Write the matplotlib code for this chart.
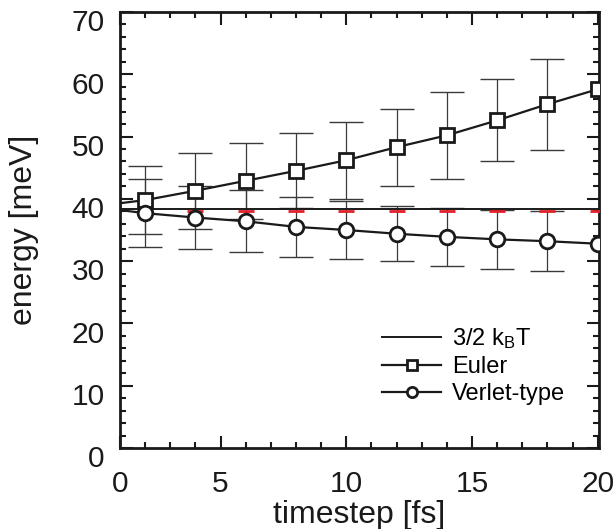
import matplotlib
matplotlib.use('Agg')
import matplotlib.pyplot as plt
import matplotlib.transforms as mtransforms
from matplotlib.ticker import MultipleLocator
import numpy as np

plt.rcParams['font.family'] = ['Liberation Sans', 'DejaVu Sans']
plt.rcParams['mathtext.default'] = 'regular'

# Data
timestep = [0, 2, 4, 6, 8, 10, 12, 14, 16, 18, 20]
euler = [38.8, 39.8, 41.3, 42.9, 44.5, 46.2, 48.3, 50.2, 52.6, 55.2, 57.6]
verlet = [38.7, 37.7, 37.0, 36.4, 35.5, 35.0, 34.4, 33.9, 33.5, 33.2, 32.8]
err_x = [2, 4, 6, 8, 10, 12, 14, 16, 18]
euler_err = [5.4, 6.1, 6.1, 6.0, 6.2, 6.2, 7.0, 6.6, 7.3]
verlet_err = [5.5, 5.1, 5.0, 4.8, 4.6, 4.4, 4.6, 4.7, 4.8]
kT = 38.3
red_x = [2, 4, 6, 8, 10, 12, 14, 16, 18, 20]

xticks = [1, 5, 10, 15, 20]
xticklabels = ['0', '5', '10', '15', '20']

fig = plt.figure(figsize=(6.16, 5.29), dpi=100)
ax = fig.add_axes([120/616, 1-448/529, 479/616, 436/529])

euler_at = dict(zip(timestep, euler))
verlet_at = dict(zip(timestep, verlet))

# error bars
ax.errorbar(err_x, [euler_at[t] for t in err_x], yerr=euler_err, fmt='none',
            ecolor='#3a3a3a', elinewidth=0.9, capsize=12, capthick=1.0, zorder=2)
ax.errorbar(err_x, [verlet_at[t] for t in err_x], yerr=verlet_err, fmt='none',
            ecolor='#3a3a3a', elinewidth=0.9, capsize=12, capthick=1.0, zorder=2)

# red dashes just under the kT line
shift = mtransforms.ScaledTranslation(0, -1.2/72, fig.dpi_scale_trans)
ax.plot(red_x, [kT]*len(red_x), ls='none', marker='_', ms=12, mew=2.0,
        color='#e3202a', zorder=3, transform=ax.transData + shift)
ax.axhline(kT, color='#1a1a1a', lw=1.4, zorder=4, label=r'3/2 k$_{B}$T')

ax.plot(timestep, euler, '-', color='#1a1a1a', lw=1.6, marker='s', ms=9.5,
        mfc='white', mec='#1a1a1a', mew=2.0, zorder=5, label='Euler')
ax.plot(timestep, verlet, '-', color='#1a1a1a', lw=1.6, marker='o', ms=10.5,
        mfc='white', mec='#1a1a1a', mew=2.0, zorder=5, label='Verlet-type')

ax.set_xlim(1, 20.05)
ax.set_ylim(0, 70)
ax.set_xticks(xticks)
ax.set_xticklabels(xticklabels)
ax.xaxis.set_minor_locator(MultipleLocator(1))
ax.yaxis.set_major_locator(MultipleLocator(10))
ax.yaxis.set_minor_locator(MultipleLocator(2))

ax.tick_params(which='both', direction='in', top=True, right=True,
               width=1.5, color='#1a1a1a', labelsize=21.5, labelcolor='#1a1a1a')
ax.tick_params(which='major', length=9)
ax.tick_params(which='minor', length=4.5)
ax.tick_params(axis='y', which='major', pad=11)
ax.tick_params(axis='x', which='major', pad=16)
for s in ax.spines.values():
    s.set_linewidth(2.0)
    s.set_color('#1a1a1a')

offset = mtransforms.ScaledTranslation(0, -6/72, fig.dpi_scale_trans)
for lab in ax.get_yticklabels():
    lab.set_transform(lab.get_transform() + offset)

ax.set_xlabel('timestep [fs]', fontsize=23, color='#1a1a1a')
ax.set_ylabel('energy [meV]', fontsize=23, color='#1a1a1a')
ax.xaxis.set_label_coords(0.5, -0.12)
ax.yaxis.set_label_coords(-0.17, 0.5)

h, l = ax.get_legend_handles_labels()
leg = ax.legend(h, l, loc='upper left', bbox_to_anchor=(382/616, 1-326/529),
                bbox_transform=fig.transFigure, frameon=False, fontsize=17,
                handlelength=2.5, handletextpad=0.45, labelspacing=0.22,
                borderpad=0, borderaxespad=0, markerscale=0.7)

fig.savefig('out.png', dpi=100)
